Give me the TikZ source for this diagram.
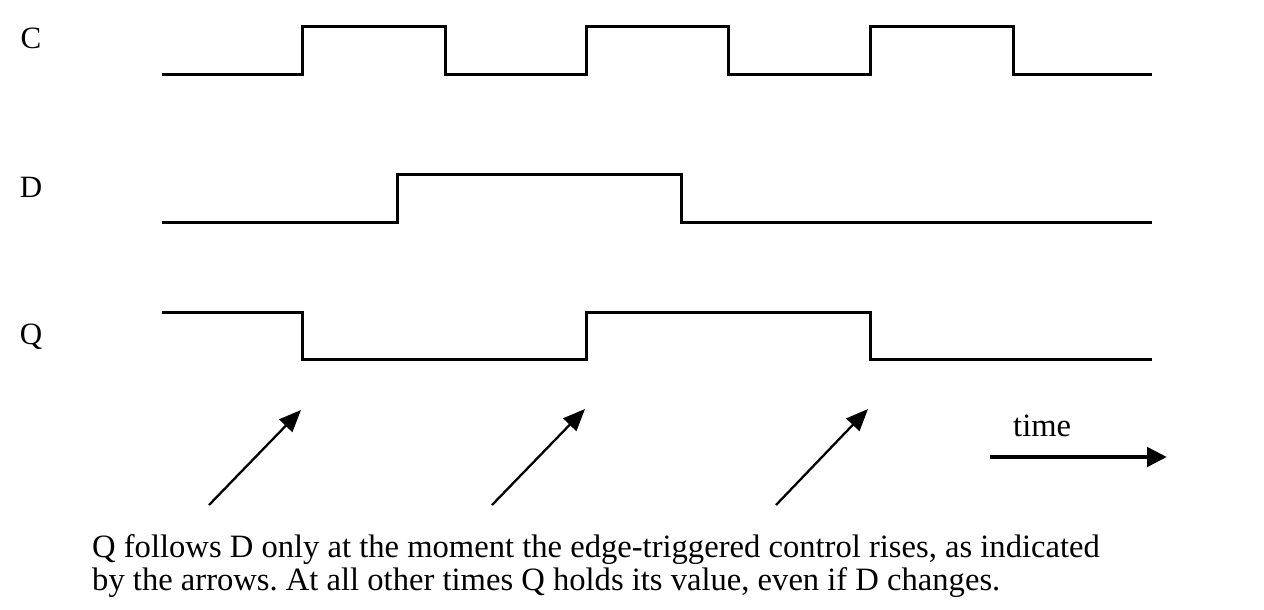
\documentclass[tikz,border=0pt]{standalone}
\usepackage{fontspec}
\setmainfont{Liberation Serif}
\usetikzlibrary{arrows.meta}
\frenchspacing
\begin{document}
\begin{tikzpicture}[x=1pt,y=-1pt,
  wave/.style={line width=3pt,line join=miter},
  pointer/.style={line width=2.3pt,-{Triangle[length=22pt,width=18pt]}},
  lbl/.style={font=\fontsize{31}{36}\selectfont,inner sep=0pt},
  txt/.style={font=\fontsize{32.6}{38}\selectfont,inner sep=0pt,anchor=base west}]
\useasboundingbox (0,0) rectangle (1264,610);
% labels
\node[lbl] (lc) at (31,38) {C};
\node[lbl] (ld) at (31,187) {D};
\node[lbl] (lq) at (31,337) {Q};
% C waveform
\draw[wave] (162,75) -- (302,75) -- (302,27) -- (445,27) -- (445,75) -- (586,75) -- (586,27) -- (728,27) -- (728,75) -- (870,75) -- (870,27) -- (1013,27) -- (1013,75) -- (1152,75);
% D waveform
\draw[wave] (162,222) -- (397,222) -- (397,174) -- (681,174) -- (681,222) -- (1152,222);
% Q waveform
\draw[wave] (162,312) -- (302,312) -- (302,359) -- (586,359) -- (586,312) -- (870,312) -- (870,359) -- (1152,359);
% arrows
\coordinate (a1s) at (209,505); \coordinate (a1e) at (301,410);
\coordinate (a2s) at (492,505); \coordinate (a2e) at (585,409);
\coordinate (a3s) at (776,505); \coordinate (a3e) at (868,409);
\draw[pointer] (a1s) -- (a1e);
\draw[pointer] (a2s) -- (a2e);
\draw[pointer] (a3s) -- (a3e);
% time
\node[txt] (time) at (1013,436) {time};
\coordinate (ts) at (990,457); \coordinate (te) at (1167,457);
\draw[line width=4.6pt,-{Triangle[length=20pt,width=19pt]}] (ts) -- (te);
% caption
\node[txt] (t1) at (92,557) {Q follows D only at the moment the edge-triggered control rises, as indicated};
\node[txt] (t2) at (92,590) {by the arrows. At all other times Q holds its value, even if D changes.};
\end{tikzpicture}
\end{document}
